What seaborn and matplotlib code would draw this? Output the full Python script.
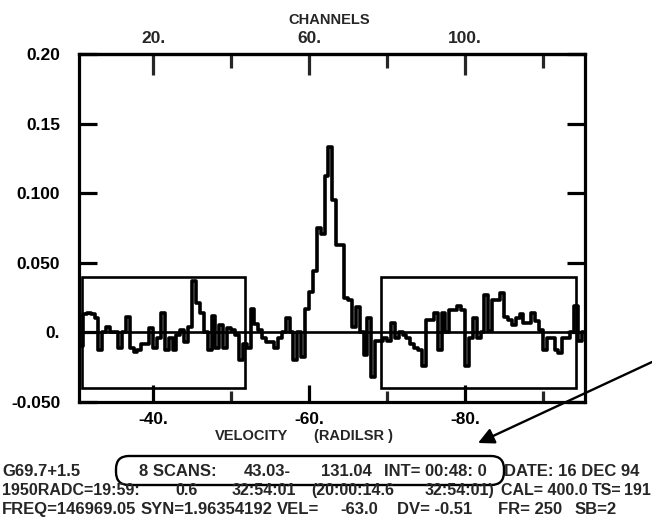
import numpy as np
import pandas as pd
import matplotlib
matplotlib.use("Agg")
import matplotlib.pyplot as plt
import seaborn as sns
from matplotlib.patches import Rectangle, FancyBboxPatch

# ---------------- data ----------------
# channel index (channel number ~ index + 1.5); velocity from VEL / DV header
channel_index = np.arange(131)
dv_kms = -0.5
v_first = -30.75
velocity = v_first + dv_kms * channel_index

antenna_temp = [
    -0.010, 0.013, 0.014, 0.013, 0.010, -0.013, 0.000, 0.004, 0.000, 0.000,
    -0.011, 0.000, 0.011, -0.011, -0.014, -0.013, -0.008, -0.008, 0.003, -0.011,
    -0.004, 0.014, -0.013, -0.004, -0.013, -0.002, 0.0015, -0.007, 0.004, 0.037,
    0.021, 0.014, 0.000, -0.013, 0.012, -0.011, 0.005, -0.011, 0.003, 0.0015,
    -0.002, -0.020, -0.008, -0.011, 0.017, 0.006, 0.0015, -0.004, -0.007, -0.007,
    -0.011, -0.004, 0.000, 0.010, 0.000, -0.020, 0.000, -0.018, 0.017, 0.029,
    0.044, 0.075, 0.071, 0.112, 0.133, 0.095, 0.063, 0.063, 0.025, 0.023,
    0.004, 0.018, 0.000, -0.016, 0.010, -0.032, -0.006, -0.006, -0.004, -0.006,
    0.007, -0.004, 0.000, -0.002, -0.004, -0.008, -0.011, -0.013, -0.024, 0.009,
    0.009, 0.014, -0.013, 0.014, 0.000, 0.016, 0.016, 0.019, 0.016, -0.024,
    -0.004, 0.010, -0.004, 0.000, 0.027, 0.001, 0.023, 0.023, 0.028, 0.011,
    0.009, 0.005, 0.010, 0.013, 0.007, 0.007, 0.014, 0.008, 0.002, -0.013,
    -0.004, -0.004, -0.013, -0.015, -0.004, -0.004, 0.000, 0.019, -0.006, 0.000,
    -0.011,
]

# baseline windows (velocity range, +/- height)
baseline_windows = [(-30.9, -51.8), (-69.2, -94.3)]
window_halfheight = 0.04

x_major = [-40, -60, -80]
x_major_labels = ["-40.", "-60.", "-80."]
x_minor = [-50, -70, -90]
y_ticks = [-0.05, 0.0, 0.05, 0.10, 0.15, 0.20]
y_labels = ["-0.050", "0.", "0.050", "0.100", "0.15", "0.20"]
ch_major = [20, 60, 100]
ch_major_labels = ["20.", "60.", "100."]
ch_minor = [40, 80, 120]

header_line1 = [("G69.7+1.5", 2), ("8 SCANS:", 139), ("43.03-", 244), ("131.04", 321),
                ("INT= 00:48: 0", 384), ("DATE: 16 DEC 94", 504)]
header_line2 = [("1950RADC=19:59:", 2), ("0.6", 175), ("32:54:01", 232), ("(20:00:14.6", 311),
                ("32:54:01)", 425), ("CAL= 400.0", 501), ("TS=", 592)]
header_line2_right = ("191", 651)
header_line3 = [("FREQ=146969.05", 2), ("SYN=1.96354192", 141), ("VEL=", 277), ("-63.0", 340),
                ("DV= -0.51", 397), ("FR= 250", 498), ("SB=2", 575)]

df = pd.DataFrame({"velocity": velocity, "ta": antenna_temp})

# ---------------- style ----------------
sns.set_theme(style="white")
plt.rcParams["font.family"] = ["Liberation Sans", "DejaVu Sans"]
plt.rcParams["font.weight"] = "bold"

W, H = 652, 521
fig = plt.figure(figsize=(W / 100, H / 100), dpi=100)
fig.patch.set_facecolor("white")
L, R, T, B = 79, 585, 54, 402
ax = fig.add_axes([L / W, 1 - B / H, (R - L) / W, (B - T) / H])
ax.set_facecolor("white")

sns.lineplot(data=df, x="velocity", y="ta", drawstyle="steps-mid", color="black",
             lw=2.6, ax=ax, sort=False, estimator=None, legend=False)
ax.axhline(0, color="black", lw=1.9, zorder=1)

for v0, v1 in baseline_windows:
    ax.add_patch(Rectangle((v0, -window_halfheight), v1 - v0, 2 * window_halfheight,
                           fill=False, ec="black", lw=1.9, zorder=3))

ax.set_xlim(-30.5, -95.4)
ax.set_ylim(-0.05, 0.20)
ax.set_xlabel("")
ax.set_ylabel("")

for s in ax.spines.values():
    s.set_color("black")
    s.set_linewidth(2.3)

ax.set_xticks(x_major)
ax.set_xticklabels(x_major_labels, fontsize=12.5, fontweight="bold")
ax.set_xticks(x_minor, minor=True)
ax.set_yticks(y_ticks)
ax.set_yticklabels(y_labels, fontsize=12.5, fontweight="bold")
ax.tick_params(axis="x", which="major", direction="in", length=12, width=2.3,
               bottom=True, top=False, pad=7, colors="black")
ax.tick_params(axis="x", which="minor", direction="in", length=8, width=2.3,
               bottom=True, top=False)
ax.tick_params(axis="y", which="major", direction="in", length=13, width=2.3,
               left=True, right=True, pad=13.5, colors="black")


def v2ch(v):
    return 20 + (-40 - np.asarray(v)) * 2.0


def ch2v(c):
    return -40 - (np.asarray(c) - 20) / 2.0


sec = ax.secondary_xaxis("top", functions=(v2ch, ch2v))
sec.set_xticks(ch_major)
sec.set_xticklabels(ch_major_labels, fontsize=12.5, fontweight="bold")
sec.set_xticks(ch_minor, minor=True)
sec.tick_params(axis="x", which="major", direction="in", length=15, width=2.3, pad=6)
sec.tick_params(axis="x", which="minor", direction="in", length=10, width=2.3)
sec.spines["top"].set_linewidth(2.3)

ax.text((329 - L) / (R - L), (B - 20) / (B - T), "CHANNELS", transform=ax.transAxes,
        ha="center", va="center", fontsize=10.5, fontweight="bold")

# ---------------- overlay (page annotations) ----------------
ov = fig.add_axes([0, 0, 1, 1])
ov.set_xlim(0, W)
ov.set_ylim(H, 0)
ov.axis("off")
ov.patch.set_alpha(0)

ov.text(215, 436, "VELOCITY", ha="left", va="center", fontsize=10.5, fontweight="bold")
ov.text(314, 436, "(RADILSR )", ha="left", va="center", fontsize=10.5, fontweight="bold")

for line, yb, fs in ((header_line1, 476, 12), (header_line2, 495, 11.5), (header_line3, 514, 12)):
    for s, x in line:
        ov.text(x, yb, s, ha="left", va="baseline", fontsize=fs, fontweight="bold")
ov.text(header_line2_right[1], 495, header_line2_right[0], ha="right", va="baseline",
        fontsize=11.5, fontweight="bold")

ov.add_patch(FancyBboxPatch((116, 456), 388, 29, boxstyle="round,pad=0,rounding_size=13",
                            fill=False, ec="black", lw=1.7))
ov.annotate("", xy=(478, 443), xytext=(652, 362),
            arrowprops=dict(arrowstyle="-|>", lw=1.7, color="black", mutation_scale=24,
                            shrinkA=0, shrinkB=0))

fig.savefig("out.png", dpi=100, facecolor="white")
